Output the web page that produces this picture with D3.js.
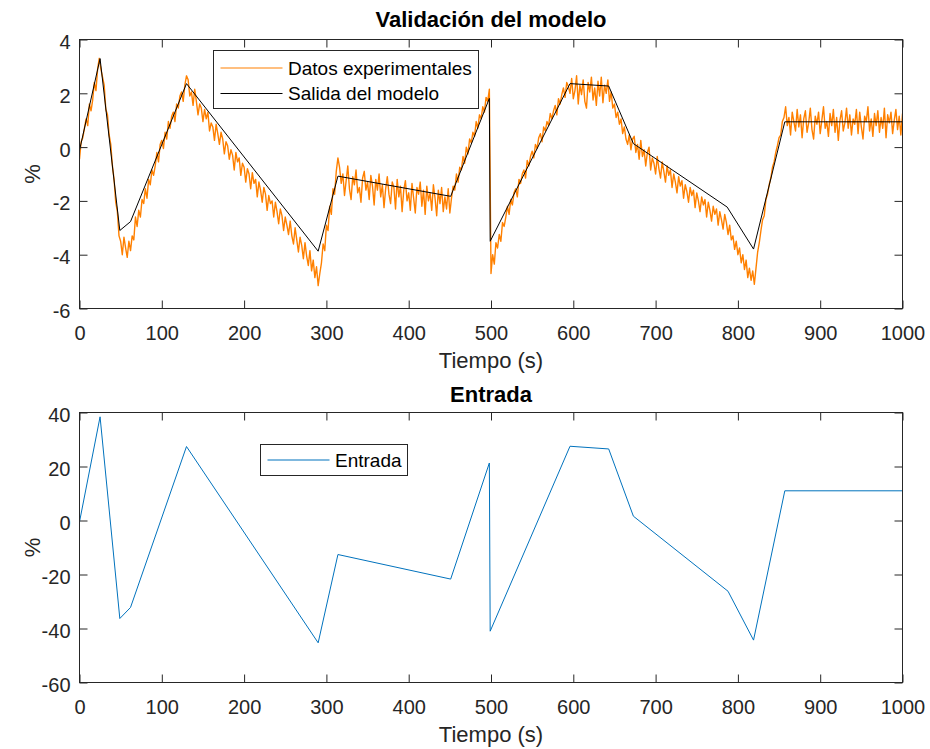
<!DOCTYPE html>
<html>
<head>
<meta charset="utf-8">
<script src="https://cdn.jsdelivr.net/npm/d3@7"></script>
<style>
html,body{margin:0;padding:0;background:#fff;}
svg{display:block;font-family:"Liberation Sans",Arial,Helvetica,sans-serif;}
</style>
</head>
<body>
<svg id="chart" width="930" height="749"></svg>
<script>
// ---------------- DATA ----------------
const xTicks = [0,100,200,300,400,500,600,700,800,900,1000];
const yTicksTop = [-6,-4,-2,0,2,4];
const yTicksBottom = [-60,-40,-20,0,20,40];

// Salida del modelo: breakpoints (time s, %)
const modelTime  = [0, 25, 49, 62, 130, 290, 314, 451, 498, 499, 596, 643, 673, 787, 819, 857, 1000];
const modelValue = [-0.12, 3.29, -3.1, -2.77, 2.36, -3.87, -1.08, -1.83, 1.81, -3.5, 2.36, 2.27, 0.13, -2.23, -3.79, 0.94, 0.94];

// Entrada: breakpoints (time s, %)
const inputTime  = [0, 25, 49, 62, 130, 290, 314, 451, 498, 499, 596, 643, 673, 788, 819, 857, 1000];
const inputValue = [-0.5, 38.4, -36.3, -32.2, 27.4, -45.3, -12.6, -21.7, 21.3, -41, 27.5, 26.5, 1.6, -26.2, -44.3, 11, 11];

// Datos experimentales: one sample every 2 s, starting at t = 0
const expStep = 2;
const expValue = [
  /* 0-24 */   -0.45,0.2,0.35,0.7,1.05,0.8,1.6,1.35,1.75,2.4,2.1,2.9,3.3,
  /* 26-48 */  2.9,2.6,2.3,1.4,1.2,0.45,0.1,-0.7,-1.2,-2.05,-2.4,-3.3,
  /* 50-62 */  -3.5,-4.0,-3.35,-3.75,-4.1,-3.5,-3.85,
  /* 64-130 */ -3.3,-3.45,-2.6,-2.95,-2.35,-2.6,-1.95,-2.1,-1.55,-1.9,-1.2,-1.4,-0.85,-1.05,-0.7,-0.2,-0.55,0.1,0.25,-0.05,0.55,0.3,0.95,0.7,1.15,1.3,0.95,1.6,1.45,1.9,2.05,1.7,2.3,2.65,
  /* 132-290 */ 2.5,1.9,2.05,1.55,2.15,1.7,1.2,1.6,1.45,0.95,1.4,1.05,1.3,0.6,0.9,0.75,0.25,0.85,0.5,0.1,
               0.55,0.3,-0.25,0.2,0.05,-0.45,-0.1,-0.3,-0.85,-0.2,-0.55,-0.4,-1.05,-0.6,-0.75,-1.3,-0.8,-1.0,-1.55,-0.95,
               -1.35,-1.2,-1.85,-1.3,-1.6,-2.05,-1.5,-1.75,-2.35,-1.8,-2.1,-2.0,-2.6,-2.05,-2.4,-2.85,-2.3,-2.55,-3.1,-2.6,
               -2.9,-3.25,-2.75,-3.3,-3.6,-3.0,-3.45,-3.9,-3.35,-3.65,-4.15,-3.55,-4.05,-4.4,-3.85,-4.6,-4.2,-4.85,-4.45,-5.15,
  /* 292-314 */ -4.7,-4.3,-3.6,-3.85,-2.9,-3.1,-2.2,-2.5,-1.55,-1.75,-0.9,-0.4,
  /* 316-450 */ -0.75,-1.35,-1.0,-1.8,-1.25,-0.7,-1.55,-1.95,-1.1,-1.4,
               -0.85,-1.7,-1.5,-2.05,-1.15,-0.9,-1.6,-1.3,-1.95,-1.05,
               -1.45,-2.15,-1.2,-1.6,-1.0,-1.85,-1.4,-2.25,-1.55,-1.1,
               -1.75,-2.1,-1.3,-1.5,-2.3,-1.2,-1.85,-1.45,-2.4,-1.6,
               -1.25,-2.0,-1.7,-2.35,-1.35,-1.9,-2.45,-1.5,-1.75,-1.3,
               -2.2,-1.6,-2.5,-1.45,-2.0,-1.7,-2.35,-1.4,-1.9,-2.55,
               -1.6,-2.1,-1.5,-2.4,-1.85,-2.3,-1.55,-2.45,
  /* 452-498 */ -1.9,-1.45,-1.6,-1.0,-1.3,-0.75,-0.85,-0.35,-0.6,0.0,-0.25,0.3,0.15,0.55,0.4,0.95,0.7,1.2,1.05,1.5,1.3,1.85,1.7,2.15,
  /* 500-596 */ -4.7,-4.0,-4.35,-3.55,-3.75,-3.25,-3.5,-2.8,-2.95,-2.6,
               -2.2,-2.5,-1.95,-2.15,-1.7,-1.55,-1.85,-1.2,-1.35,-1.0,
               -0.85,-1.15,-0.5,-0.7,-0.35,-0.15,-0.4,0.1,-0.05,0.35,
               0.5,0.2,0.75,0.6,0.95,0.8,1.25,1.05,1.35,1.55,
               1.2,1.8,1.6,1.95,2.2,1.85,2.4,2.25,2.0,
  /* 598-642 */ 2.55,1.8,2.1,2.65,1.6,2.3,1.95,2.5,1.7,1.45,2.4,2.05,2.6,1.75,2.2,1.55,2.45,1.9,2.6,1.65,2.3,2.0,2.5,
  /* 644-672 */ 1.7,2.05,1.45,1.6,1.1,1.3,0.85,1.05,0.5,0.75,0.3,0.1,0.45,-0.1,0.3,
  /* 674-786 */ 0.4,-0.2,0.1,-0.45,0.25,-0.35,-0.1,-0.7,-0.2,0.0,
               -0.85,-0.4,-0.6,-1.0,-0.35,-0.8,-1.15,-0.55,-0.9,-1.3,
               -0.7,-1.05,-0.85,-1.5,-1.0,-1.3,-1.7,-1.1,-1.45,-1.25,
               -1.9,-1.4,-1.65,-2.05,-1.5,-1.8,-1.6,-2.25,-1.7,-2.0,
               -2.4,-1.85,-2.15,-1.95,-2.6,-2.05,-2.35,-2.75,-2.2,-2.5,
               -2.3,-2.9,-2.4,-2.7,-3.05,-2.5,-2.8,
  /* 788-818 */ -3.25,-2.9,-3.45,-3.3,-3.8,-3.5,-4.0,-3.75,-4.3,-4.0,-4.55,-4.2,-4.85,-4.5,-4.95,-4.6,
  /* 820-856 */ -5.1,-4.5,-3.9,-3.55,-3.1,-2.7,-2.55,-1.95,-1.75,-1.4,-1.15,-0.75,-0.55,-0.2,0.05,0.35,0.45,0.95,1.1,
  /* 858-1000 */ 1.5,0.8,1.1,0.45,1.3,0.95,0.6,1.4,0.75,1.2,
               0.35,1.05,1.35,0.55,0.9,1.45,0.65,0.3,1.15,0.85,
               1.3,0.5,1.0,1.5,0.7,0.95,0.4,1.25,0.8,1.4,
               0.55,1.1,0.25,1.0,1.35,0.6,0.9,1.45,0.7,1.2,
               0.45,1.05,0.85,1.4,0.5,1.3,0.75,0.3,1.15,0.95,
               1.5,0.6,1.05,0.4,1.25,0.8,1.35,0.55,1.1,0.7,
               1.45,0.35,1.2,0.9,1.3,0.5,1.0,1.4,0.65,1.15,
               0.45,1.25
];

// ---------------- DRAWING ----------------
const svg = d3.select("#chart");
const axisColor = "#262626";
const left = 79.5, right = 902.5;
const fmt = d => String(d);

function panel(cfg) {
  const g = svg.append("g");
  const x = d3.scaleLinear().domain([0, 1000]).range([left, right]);
  const y = d3.scaleLinear().domain(cfg.yDomain).range([cfg.bottom, cfg.top]);

  const clipId = "clip" + cfg.id;
  svg.append("clipPath").attr("id", clipId).append("rect")
    .attr("x", left).attr("y", cfg.top).attr("width", right - left).attr("height", cfg.bottom - cfg.top);

  const lines = g.append("g").attr("clip-path", `url(#${clipId})`);
  cfg.series.forEach(s => {
    const line = d3.line().x(d => x(d[0])).y(d => y(d[1]));
    lines.append("path").datum(s.data)
      .attr("fill", "none").attr("stroke", s.color).attr("stroke-width", s.width)
      .attr("stroke-linejoin", "round")
      .attr("d", line);
  });

  const styleAxis = sel => {
    sel.select(".domain").remove();
    sel.selectAll("line").attr("stroke", axisColor).attr("stroke-width", 1);
    sel.selectAll("text").attr("fill", axisColor).style("font-size", "20px")
      .style("font-family", '"Liberation Sans", Arial, sans-serif');
  };
  const xb = g.append("g").attr("transform", `translate(0,${cfg.bottom})`)
    .call(d3.axisBottom(x).tickValues(xTicks).tickSize(-8).tickFormat(fmt));
  styleAxis(xb);
  xb.selectAll("text").attr("y", 31).attr("dy", 0);
  const xt = g.append("g").attr("transform", `translate(0,${cfg.top})`)
    .call(d3.axisTop(x).tickValues(xTicks).tickSize(-8).tickFormat(""));
  styleAxis(xt);
  const yl = g.append("g").attr("transform", `translate(${left},0)`)
    .call(d3.axisLeft(y).tickValues(cfg.yTicks).tickSize(-8).tickFormat(fmt));
  styleAxis(yl);
  yl.selectAll("text").attr("x", -9).attr("dy", 9);
  const yr = g.append("g").attr("transform", `translate(${right},0)`)
    .call(d3.axisRight(y).tickValues(cfg.yTicks).tickSize(-8).tickFormat(""));
  styleAxis(yr);

  g.append("rect").attr("x", left).attr("y", cfg.top)
    .attr("width", right - left).attr("height", cfg.bottom - cfg.top)
    .attr("fill", "none").attr("stroke", axisColor).attr("stroke-width", 1);

  g.append("text").attr("x", (left + right) / 2).attr("y", cfg.titleY)
    .attr("text-anchor", "middle").attr("fill", "#000")
    .style("font-size", "22px").style("font-weight", "bold").text(cfg.title);
  g.append("text").attr("x", (left + right) / 2).attr("y", cfg.bottom + 59.5)
    .attr("text-anchor", "middle").attr("fill", axisColor)
    .style("font-size", "22px").text("Tiempo (s)");
  g.append("text")
    .attr("transform", `translate(40,${(cfg.top + cfg.bottom) / 2}) rotate(-90)`)
    .attr("text-anchor", "middle").attr("fill", axisColor)
    .style("font-size", "22px").text("%");

  const L = cfg.legend;
  const lg = g.append("g");
  lg.append("rect").attr("x", L.x).attr("y", L.y).attr("width", L.w).attr("height", L.h)
    .attr("fill", "#fff").attr("stroke", axisColor).attr("stroke-width", 1);
  L.items.forEach((it, i) => {
    const yy = L.y + L.rowY[i];
    lg.append("line").attr("x1", L.x + 7).attr("x2", L.x + 69).attr("y1", yy).attr("y2", yy)
      .attr("stroke", it.color).attr("stroke-width", 1.2);
    lg.append("text").attr("x", L.x + 74.5).attr("y", yy + 6.8).attr("fill", "#000")
      .style("font-size", "19px").text(it.label);
  });
}

const expData = expValue.map((v, i) => [i * expStep, v]);
const modelData = modelTime.map((t, i) => [t, modelValue[i]]);
const inputData = inputTime.map((t, i) => [t, inputValue[i]]);

panel({
  id: 1, top: 39.5, bottom: 308.5, yDomain: [-6, 4], yTicks: yTicksTop,
  title: "Validación del modelo", titleY: 27,
  series: [
    {data: expData, color: "#FF8000", width: 1.4},
    {data: modelData, color: "#000000", width: 1}
  ],
  legend: {x: 213.5, y: 50.5, w: 265, h: 58, rowY: [17.5, 43],
    items: [{label: "Datos experimentales", color: "#FF8000"}, {label: "Salida del modelo", color: "#000000"}]}
});

panel({
  id: 2, top: 412.5, bottom: 682.5, yDomain: [-60, 40], yTicks: yTicksBottom,
  title: "Entrada", titleY: 401.5,
  series: [
    {data: inputData, color: "#0072BD", width: 1}
  ],
  legend: {x: 260.5, y: 444.5, w: 147, h: 31, rowY: [15.5],
    items: [{label: "Entrada", color: "#0072BD"}]}
});
</script>
</body>
</html>
